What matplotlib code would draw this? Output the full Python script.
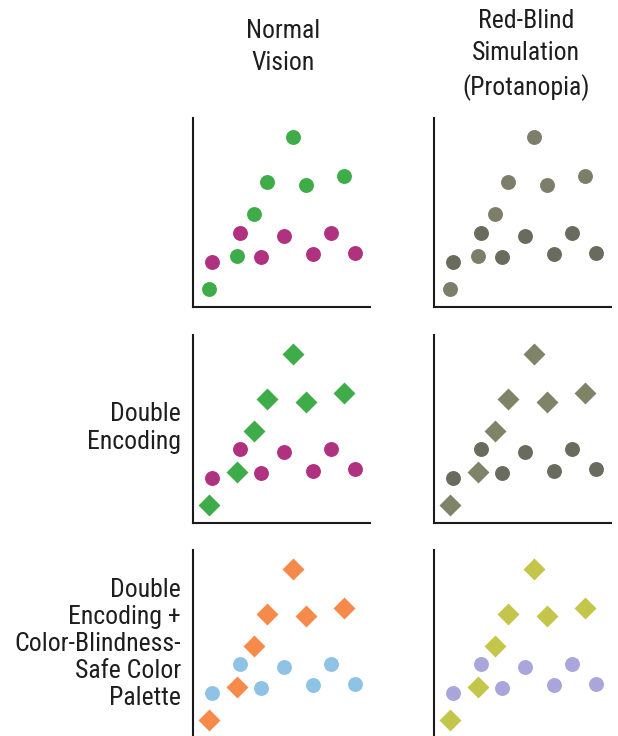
import matplotlib
matplotlib.use("Agg")
import matplotlib.pyplot as plt
import numpy as np

plt.rcParams['font.family'] = ['Liberation Sans Narrow', 'Roboto Condensed', 'Roboto', 'DejaVu Sans']

# data (0..10 axes)
series_a_x = [0.9, 2.49, 3.45, 4.18, 5.65, 6.38, 8.53]
series_a_y = [0.95, 2.70, 4.92, 6.61, 9.0, 6.46, 6.93]
series_b_x = [1.07, 2.66, 3.84, 5.14, 6.78, 7.80, 9.15]
series_b_y = [2.38, 3.92, 2.65, 3.76, 2.80, 3.92, 2.86]

col_titles = ["Normal\nVision", "Red-Blind\nSimulation\n(Protanopia)"]
row_labels = ["", "Double\nEncoding",
              "Double\nEncoding +\nColor-Blindness-\nSafe Color\nPalette"]

# (marker a, color a, color b) per row / column
row_markers = ["o", "D", "D"]
colors = [
    [("#3fac4a", "#b0317f"), ("#7c7e69", "#696b5c")],
    [("#3fac4a", "#b0317f"), ("#7f8368", "#696b5c")],
    [("#f58a4b", "#8ec3e5"), ("#c3c64a", "#a8a6da")],
]

fig = plt.figure(figsize=(6.18, 7.36), dpi=100)

lefts = [0.312, 0.702]
w = 0.286
bottoms = [0.583, 0.289, -0.003]
h = 0.256

for r in range(3):
    for c in range(2):
        ax = fig.add_axes([lefts[c], bottoms[r], w, h])
        ca, cb = colors[r][c]
        m = row_markers[r]
        sa = 115 if m == "o" else 125
        ax.scatter(series_b_x, series_b_y, s=115, marker="o", color=cb, linewidths=0, zorder=3)
        ax.scatter(series_a_x, series_a_y, s=sa, marker=m, color=ca, linewidths=0, zorder=3)
        ax.set_xlim(0, 10)
        ax.set_ylim(0, 10)
        ax.set_xticks([])
        ax.set_yticks([])
        ax.spines['top'].set_visible(False)
        ax.spines['right'].set_visible(False)
        for s in ['left', 'bottom']:
            ax.spines[s].set_linewidth(1.5)
            ax.spines[s].set_color("#1a1a1a")

fs = 18.5
fig.text(0.458, 1 - 47 / 736, col_titles[0], ha="center", va="center",
         fontsize=fs, linespacing=1.42, color="#1e1e1e")
fig.text(0.851, 1 - 55 / 736, col_titles[1], ha="center", va="center",
         fontsize=fs, linespacing=1.42, color="#1e1e1e")
fig.text(0.293, 1 - 428 / 736, row_labels[1], ha="right", va="center",
         fontsize=fs, linespacing=1.16, color="#1e1e1e")
fig.text(0.293, 1 - 644 / 736, row_labels[2], ha="right", va="center",
         fontsize=fs, linespacing=1.16, color="#1e1e1e")

fig.savefig("out.png", dpi=100, facecolor="white")
